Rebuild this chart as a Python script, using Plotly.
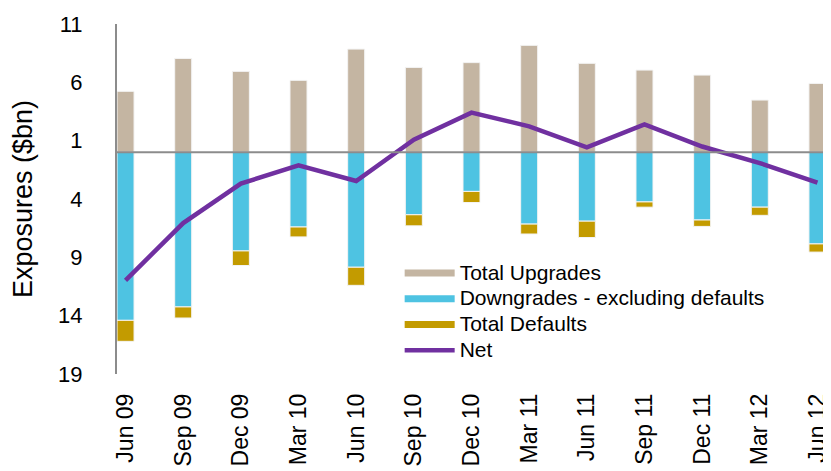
import plotly.graph_objects as go

# quarters on the x axis
quarters = ['Jun 09', 'Sep 09', 'Dec 09', 'Mar 10', 'Jun 10', 'Sep 10', 'Dec 10',
            'Mar 11', 'Jun 11', 'Sep 11', 'Dec 11', 'Mar 12', 'Jun 12']

# exposures in $bn
total_upgrades = [5.23, 8.05, 6.94, 6.17, 8.85, 7.28, 7.69, 9.17, 7.63, 7.05, 6.62, 4.48, 5.91]
downgrades_ex_defaults = [14.4, 13.25, 8.45, 6.4, 9.85, 5.35, 3.35, 6.15, 5.9, 4.25, 5.8, 4.7, 7.85]
total_defaults = [1.8, 0.95, 1.25, 0.85, 1.55, 0.95, 0.95, 0.85, 1.4, 0.45, 0.55, 0.7, 0.7]
net = [-10.97, -6.06, -2.68, -1.11, -2.46, 1.09, 3.4, 2.23, 0.43, 2.4, 0.5, -0.92, -2.6]

# y axis shows magnitudes, downgrades/defaults plotted below zero
y_ticks = [11, 6, 1, -4, -9, -14, -19]
y_tick_text = [str(abs(v)) for v in y_ticks]

C_UP = '#C4B5A2'
C_DOWN = '#4EC3E2'
C_DEF = '#C39B00'
C_NET = '#7030A0'
FONT = 'Liberation Sans'

fig = go.Figure()

bar_line = dict(color='#F4F4F4', width=1)
fig.add_trace(go.Bar(x=quarters, y=total_upgrades, name='Total Upgrades',
                     marker=dict(color=C_UP, line=bar_line), width=0.295, showlegend=False))
fig.add_trace(go.Bar(x=quarters, y=[-v for v in downgrades_ex_defaults],
                     name='Downgrades - excluding defaults',
                     marker=dict(color=C_DOWN, line=bar_line), width=0.295, showlegend=False))
fig.add_trace(go.Bar(x=quarters, y=[-v for v in total_defaults], name='Total Defaults',
                     marker=dict(color=C_DEF, line=bar_line), width=0.295, showlegend=False))
fig.add_trace(go.Scatter(x=quarters, y=net, name='Net', mode='lines',
                         line=dict(color=C_NET, width=4.5), showlegend=False))

# legend entries drawn as thick lines, like the original
# (text in a 21px span, legend font kept smaller so rows sit closer together)
for name, col, w in [('Total Upgrades', C_UP, 7),
                     ('Downgrades - excluding defaults', C_DOWN, 7),
                     ('Total Defaults', C_DEF, 7),
                     ('Net', C_NET, 4.5)]:
    fig.add_trace(go.Scatter(x=[None], y=[None], mode='lines',
                             name='<span style="font-size:21px">%s</span>' % name,
                             line=dict(color=col, width=w)))

# zero line drawn over the bars
fig.add_shape(type='line', xref='paper', yref='y', x0=0, x1=1, y0=0, y1=0,
              line=dict(color='#8C8C8C', width=2), layer='above')

fig.update_layout(
    width=831, height=471,
    margin=dict(l=109, r=10, t=16, b=105),
    barmode='relative',
    plot_bgcolor='white', paper_bgcolor='white',
    font=dict(family=FONT, color='black'),
    legend=dict(x=0.397, y=0.34, xanchor='left', yanchor='top',
                font=dict(size=17.5, family=FONT), bgcolor='rgba(0,0,0,0)',
                itemwidth=50, tracegroupgap=0),
)
fig.update_xaxes(type='category', range=[-0.148, 12.2], showgrid=False,
                 showline=False, tickangle=-90, tickfont=dict(size=23),
                 ticks='', ticklabelstandoff=14, automargin=False)
fig.update_yaxes(range=[-19, 11], tickvals=y_ticks, ticktext=y_tick_text,
                 showgrid=False, zeroline=False, showline=True, linecolor='#8C8C8C',
                 linewidth=2, tickfont=dict(size=22), ticks='', ticklabelstandoff=28,
                 automargin=False,
                 title=dict(text='Exposures ($bn)', font=dict(size=27), standoff=18))

fig.write_html('out.html')
